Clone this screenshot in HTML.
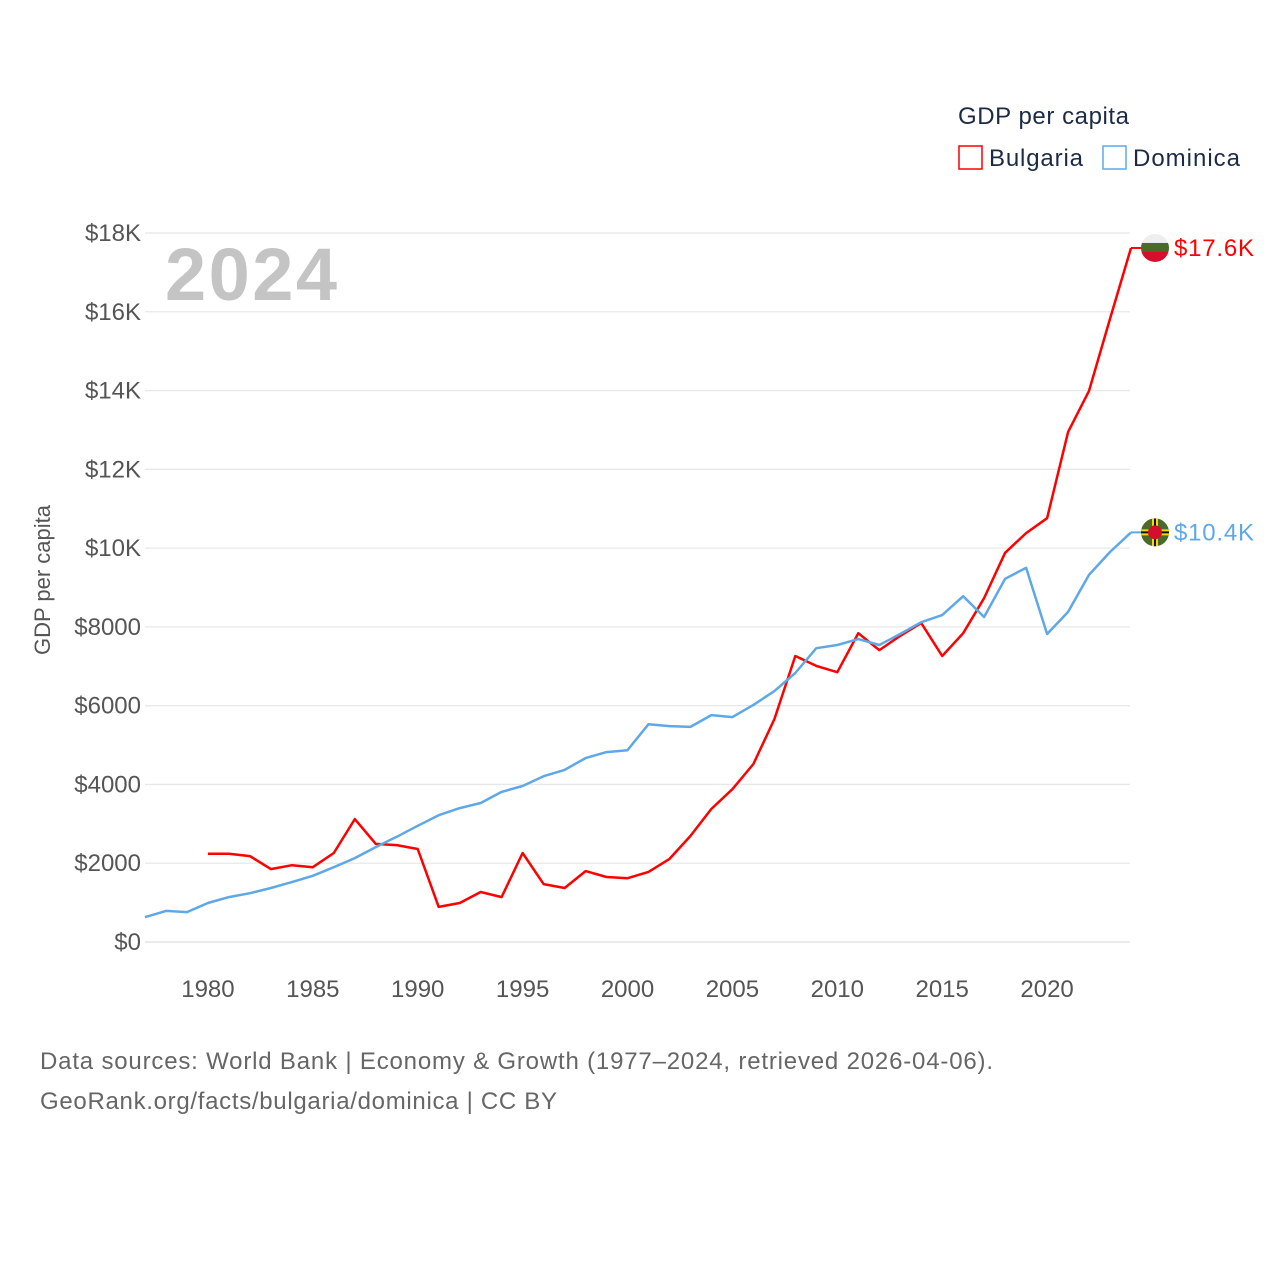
<!DOCTYPE html>
<html><head><meta charset="utf-8"><style>
body{margin:0;background:#fff;}
svg text{font-family:"Liberation Sans",sans-serif;}
</style></head><body>
<svg width="1280" height="1280" xmlns="http://www.w3.org/2000/svg">
<rect width="1280" height="1280" fill="#fff"/>
<g id="grid"></g><g id="yt"></g><g id="xt"></g><g id="lines"></g>
<text x="165" y="300" font-size="74" font-weight="bold" fill="#c4c4c4" textLength="172">2024</text>
<text x="50" y="580" font-size="22" fill="#555" transform="rotate(-90 50 580)" text-anchor="middle">GDP per capita</text>
<text x="958" y="124" font-size="24" fill="#1c2b45" textLength="171">GDP per capita</text>
<g><rect x="959" y="146" width="23" height="23" fill="none" stroke="#f00" stroke-width="1.5"/><text x="989" y="166" font-size="24" fill="#1c2b45" textLength="94">Bulgaria</text></g>
<g><rect x="1103" y="146" width="23" height="23" fill="none" stroke="#5fa8e8" stroke-width="1.5"/><text x="1133" y="166" font-size="24" fill="#1c2b45" textLength="107">Dominica</text></g>
<text x="40" y="1069" font-size="24" fill="#666" textLength="953">Data sources: World Bank | Economy &amp; Growth (1977–2024, retrieved 2026-04-06).</text>
<text x="40" y="1109" font-size="24" fill="#666" textLength="517">GeoRank.org/facts/bulgaria/dominica | CC BY</text>
</svg>
<script>
const years=[];for(let y=1977;y<=2024;y++)years.push(y);
const dominica=[630,790,760,990,1140,1240,1370,1520,1680,1900,2130,2410,2670,2950,3220,3400,3530,3810,3960,4210,4370,4670,4820,4870,5530,5480,5460,5760,5710,6020,6370,6830,7460,7540,7690,7540,7820,8120,8300,8780,8250,9220,9500,7820,8380,9320,9900,10400];
const bulgaria=[null,null,null,2240,2240,2180,1850,1950,1900,2260,3120,2490,2460,2360,890,990,1270,1140,2260,1470,1370,1800,1650,1620,1780,2110,2690,3380,3880,4520,5660,7260,7010,6850,7840,7410,7770,8100,7260,7840,8730,9880,10380,10760,12950,13990,15820,17620];
const yTicks=[0,2000,4000,6000,8000,10000,12000,14000,16000,18000];
const yTickLabels=["$0","$2000","$4000","$6000","$8000","$10K","$12K","$14K","$16K","$18K"];
const xTicks=[1980,1985,1990,1995,2000,2005,2010,2015,2020];
const NS="http://www.w3.org/2000/svg";
const X=y=>145+(y-1977)*(1131-145)/47;
const Y=v=>942-v*(942-233)/18000;
function mk(tag,attrs,parent,text){const e=document.createElementNS(NS,tag);for(const k in attrs)e.setAttribute(k,attrs[k]);if(text!==undefined)e.textContent=text;(typeof parent==='string'?document.getElementById(parent):parent).appendChild(e);return e;}
yTicks.forEach((v,i)=>{
 const l=mk('line',{x1:145,x2:1130,y1:Y(v),y2:Y(v),stroke:v===0?'#ddd':'#e8e8e8','stroke-width':1.3},'grid');
 
 
 const t=mk('text',{x:141,y:Y(v)+8,'font-size':24,fill:'#555','text-anchor':'end'},'yt',yTickLabels[i]);
 
 
});
xTicks.forEach(y=>{
 const t=mk('text',{x:X(y),y:997,'font-size':24,fill:'#555','text-anchor':'middle'},'xt',String(y));
 
 
});
function series(vals,color,name,label){
 let d='';let started=false;
 vals.forEach((v,i)=>{if(v==null)return;d+=(started?'L':'M')+X(years[i]).toFixed(1)+','+Y(v).toFixed(1);started=true;});
 const p=mk('path',{d:d,fill:'none',stroke:color,'stroke-width':2.5,'stroke-linejoin':'round'},'lines');
 
 
 const last=vals[vals.length-1];const yy=Y(last);
 mk('line',{x1:1131,x2:1142,y1:yy,y2:yy,stroke:color,'stroke-width':2},'lines');
 const t=mk('text',{x:1174,y:yy+8,'font-size':24,fill:color,textLength:80},'lines',label);
 
 
 return yy;
}
const by=series(bulgaria,'#ff0000','bulgaria','$17.6K');
const dy=series(dominica,'#5fa8e8','dominica','$10.4K');
const c1=mk('clipPath',{id:'c1'},'lines');mk('circle',{cx:1155,cy:by,r:14},c1);
[['#eeeeee',-14],['#4a6a2a',-5],['#d40e2c',4]].forEach(([c,o])=>{mk('rect',{x:1141,y:by+o,width:28,height:10,fill:c,'clip-path':'url(#c1)'},'lines');});
const c2=mk('clipPath',{id:'c2'},'lines');mk('circle',{cx:1155,cy:dy,r:14},c2);
mk('rect',{x:1141,y:dy-14,width:28,height:28,fill:'#4a6a2a','clip-path':'url(#c2)'},'lines');
mk('rect',{x:1141,y:dy-3,width:28,height:6,fill:'#f5d90a','clip-path':'url(#c2)'},'lines');
mk('rect',{x:1152,y:dy-14,width:6,height:28,fill:'#f5d90a','clip-path':'url(#c2)'},'lines');
mk('rect',{x:1141,y:dy-1,width:28,height:2,fill:'#111','clip-path':'url(#c2)'},'lines');
mk('rect',{x:1154,y:dy-14,width:2,height:28,fill:'#111','clip-path':'url(#c2)'},'lines');
mk('circle',{cx:1155,cy:dy,r:7,fill:'#d40e2c'},'lines');
</script>
</body></html>
